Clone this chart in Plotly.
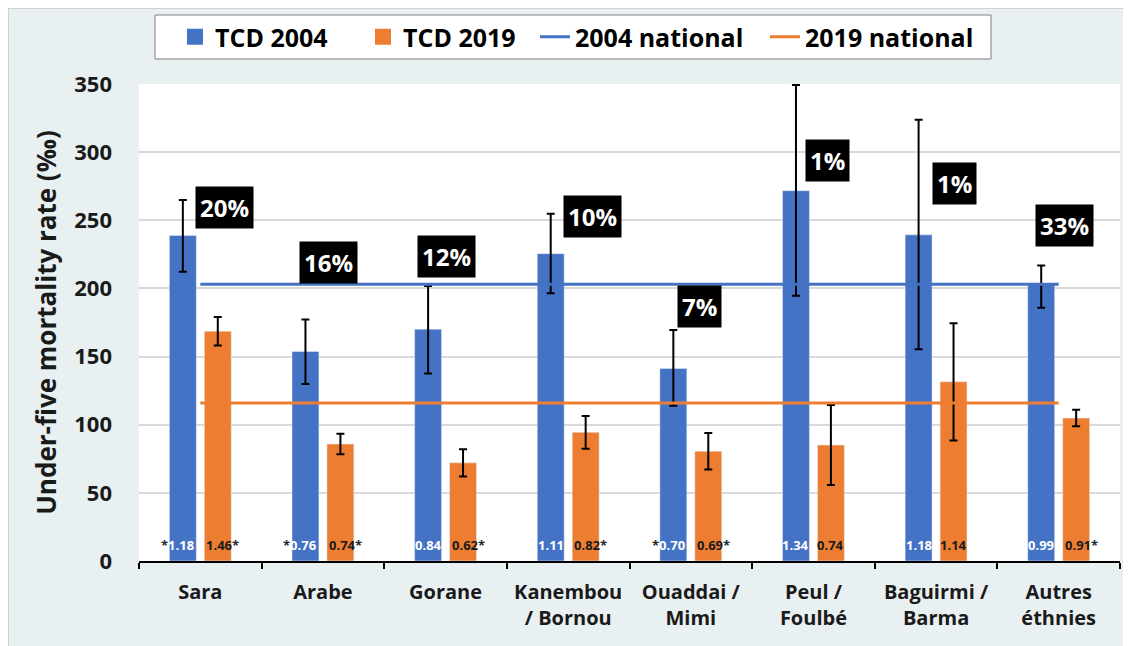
import plotly.graph_objects as go

# ---------------- data ----------------
categories = ["Sara", "Arabe", "Gorane", "Kanembou<br>/ Bornou", "Ouaddai /<br>Mimi",
              "Peul /<br>Foulbé", "Baguirmi /<br>Barma", "Autres<br>éthnies"]
tcd2004 = [238.9, 153.7, 170.1, 225.5, 141.2, 271.7, 239.3, 202.9]
err2004_up = [26.0, 23.5, 31.7, 29.3, 28.3, 77.6, 84.4, 14.0]
err2004_dn = [26.6, 23.9, 32.5, 29.0, 27.3, 77.1, 83.9, 17.0]
tcd2019 = [168.6, 85.8, 72.0, 94.4, 80.5, 85.1, 131.5, 104.9]
err2019 = [10.5, 7.5, 10.0, 12.0, 13.4, 29.3, 43.0, 6.0]
national2004 = 203
national2019 = 116
ratio2004 = ["1.18", "0.76", "0.84", "1.11", "0.70", "1.34", "1.18", "0.99"]
star2004 = [True, True, False, False, True, False, False, False]
ratio2019 = ["1.46", "0.74", "0.62", "0.82", "0.69", "0.74", "1.14", "0.91"]
star2019 = [True, True, True, True, True, False, False, True]
share_labels = ["20%", "16%", "12%", "10%", "7%", "1%", "1%", "33%"]

# label placement (layout, not data)
share_y = [259.5, 219, 223.4, 252.6, 186.7, 294, 277, 246.5]
share_dx = [24, 6, 1, 24, 9, 14.5, 18.6, 5.4]

BLUE = "#4472C4"
ORANGE = "#ED7D31"
FONT = "Open Sans"
BG = "#E9F0F2"

W, H = 1131, 646
ML, MT, PW, PH = 131, 76, 981, 477
MR = W - ML - PW
MB = H - MT - PH

fig = go.Figure()

fig.add_trace(go.Bar(
    x=categories, y=tcd2004, name="TCD 2004", marker_color=BLUE, showlegend=False,
    error_y=dict(type="data", symmetric=False, array=err2004_up, arrayminus=err2004_dn,
                 color="black", thickness=2, width=4),
))
fig.add_trace(go.Bar(
    x=categories, y=tcd2019, name="TCD 2019", marker_color=ORANGE, showlegend=False,
    error_y=dict(type="data", array=err2019, color="black", thickness=2, width=4),
))
# legend proxies for bars
fig.add_trace(go.Scatter(x=[None], y=[None], mode="markers", name="TCD 2004", legend="legend",
                         marker=dict(symbol="square", size=20, color=BLUE)))
fig.add_trace(go.Scatter(x=[None], y=[None], mode="markers", name="TCD 2019", legend="legend2",
                         marker=dict(symbol="square", size=20, color=ORANGE)))
fig.add_trace(go.Scatter(x=categories, y=[national2004] * len(categories), mode="lines",
                         name="2004 national", legend="legend3", line=dict(color=BLUE, width=3)))
fig.add_trace(go.Scatter(x=categories, y=[national2019] * len(categories), mode="lines",
                         name="2019 national", legend="legend4", line=dict(color=ORANGE, width=3)))

annotations = []
for c, t, yv, dx in zip(categories, share_labels, share_y, share_dx):
    annotations.append(dict(
        x=c, y=yv, xref="x", yref="y", text=t, showarrow=False, xshift=dx,
        font=dict(family=FONT, size=24, color="white", weight="bold"),
        bgcolor="black", borderpad=4,
    ))

STAR = "<span style='color:#262626'>*</span>"
YS = 5
for c, r, s in zip(categories, ratio2004, star2004):
    if s:
        annotations.append(dict(x=c, y=0, xref="x", yref="y", text=STAR + r, showarrow=False,
                                xanchor="right", yanchor="bottom", xshift=-17.5 + 13.5, yshift=YS,
                                font=dict(family=FONT, size=13, color="white", weight="bold")))
    else:
        annotations.append(dict(x=c, y=0, xref="x", yref="y", text=r, showarrow=False,
                                xanchor="center", yanchor="bottom", xshift=-17.5, yshift=YS,
                                font=dict(family=FONT, size=13, color="white", weight="bold")))
for c, r, s in zip(categories, ratio2019, star2019):
    if s:
        annotations.append(dict(x=c, y=0, xref="x", yref="y", text=r + STAR, showarrow=False,
                                xanchor="left", yanchor="bottom", xshift=17.5 - 13.5, yshift=YS,
                                font=dict(family=FONT, size=13, color="#1a1a1a", weight="bold")))
    else:
        annotations.append(dict(x=c, y=0, xref="x", yref="y", text=r, showarrow=False,
                                xanchor="center", yanchor="bottom", xshift=17.5, yshift=YS,
                                font=dict(family=FONT, size=13, color="#1a1a1a", weight="bold")))


def px_x(p):
    return (p - ML) / PW


def px_y(p):
    return (MT + PH - p) / PH


shapes = [
    # figure frame
    dict(type="rect", xref="paper", yref="paper", x0=px_x(0), x1=px_x(W + 20), y0=px_y(H + 20), y1=px_y(0),
         fillcolor="rgba(0,0,0,0)", line=dict(color="#D0D0D0", width=2), layer="above"),
    # legend box
    dict(type="rect", xref="paper", yref="paper", x0=px_x(147), x1=px_x(983), y0=px_y(51), y1=px_y(7),
         fillcolor="white", line=dict(color="#7F7F7F", width=1), layer="below"),
]


def legend_at(xpx):
    return dict(orientation="h", xref="container", yref="container",
                x=xpx / W, y=1 - 29 / H, xanchor="left", yanchor="middle",
                bgcolor="rgba(0,0,0,0)", borderwidth=0, itemwidth=30,
                font=dict(family=FONT, size=25, color="black", weight="bold"))


fig.update_layout(
    width=W, height=H,
    margin=dict(l=ML, r=MR, t=MT, b=MB, autoexpand=False),
    paper_bgcolor=BG, plot_bgcolor="white",
    barmode="group", bargap=0.43, bargroupgap=0.23,
    font=dict(family=FONT, color="#1a1a1a"),
    legend=legend_at(167),
    legend2=legend_at(355),
    legend3=legend_at(527),
    legend4=legend_at(757),
    annotations=annotations,
    shapes=shapes,
    showlegend=True,
)
fig.update_xaxes(
    type="category", showline=True, linecolor="black", linewidth=2,
    ticks="outside", tickson="boundaries", ticklen=6, tickwidth=2, tickcolor="black",
    ticklabelstandoff=12,
    tickfont=dict(family=FONT, size=20, color="#1a1a1a", weight="bold"),
    showgrid=False,
)
fig.update_yaxes(
    range=[0, 350], dtick=50, showgrid=True, gridcolor="#D9D9D9", gridwidth=1.5,
    zeroline=False, showline=False, ticks="", ticklabelstandoff=26,
    tickfont=dict(family=FONT, size=22, color="#1a1a1a", weight="bold"),
    title=dict(text="Under-five mortality rate (‰)", standoff=10,
               font=dict(family=FONT, size=26, color="#1a1a1a", weight="bold")),
)

fig.write_html("out.html")
